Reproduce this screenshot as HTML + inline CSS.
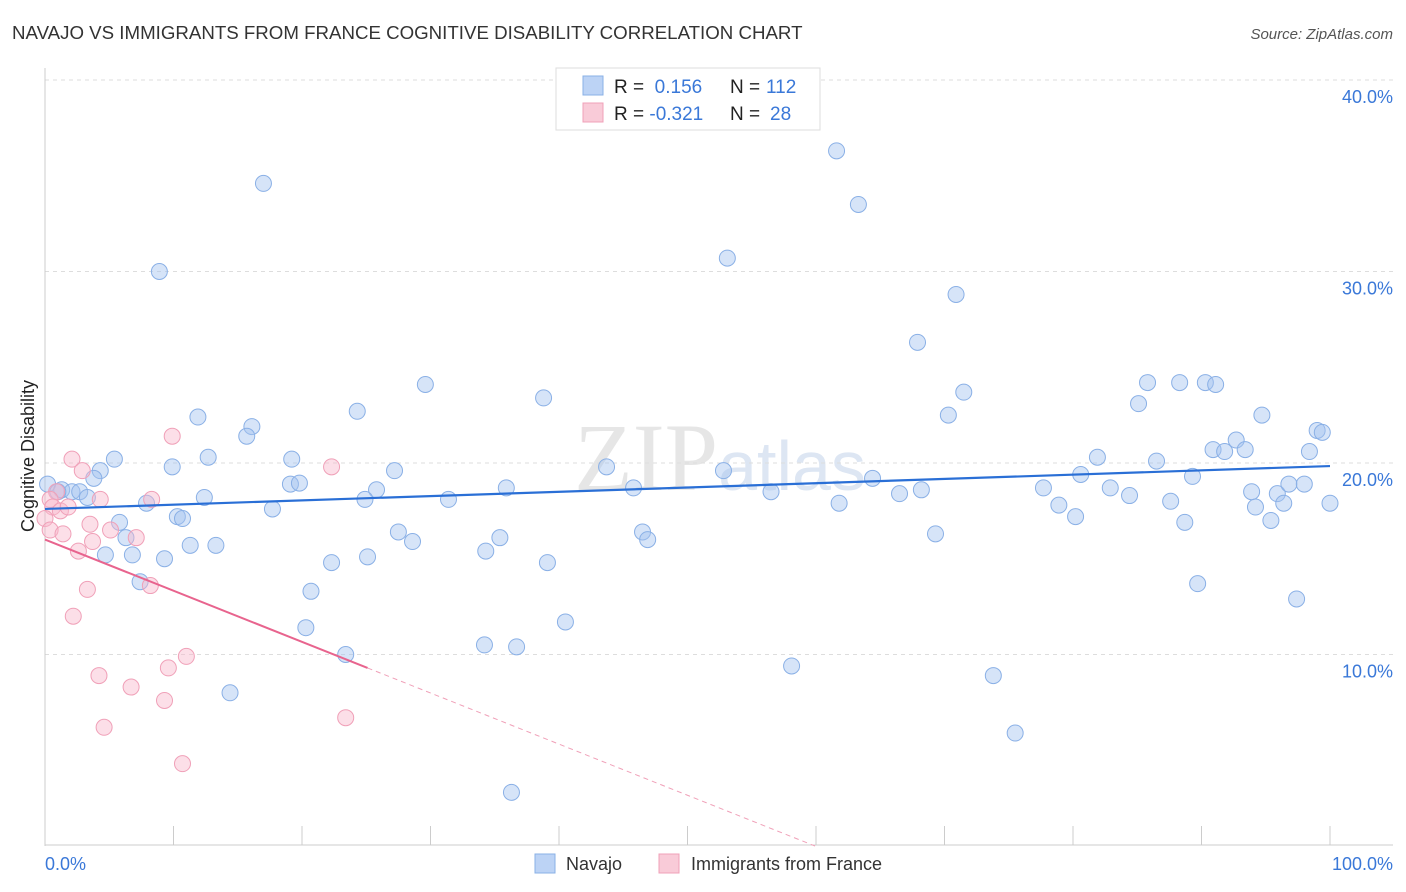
<!DOCTYPE html>
<html><head><meta charset="utf-8"><style>
body{margin:0;background:#fff;font-family:"Liberation Sans",sans-serif}
svg{display:block}
</style></head><body>
<svg id="chart" width="1406" height="892" xmlns="http://www.w3.org/2000/svg">
<text x="12" y="39" font-size="18.7" fill="#333">NAVAJO VS IMMIGRANTS FROM FRANCE COGNITIVE DISABILITY CORRELATION CHART</text>
<text x="1393" y="39" font-size="15" fill="#555" font-style="italic" text-anchor="end">Source: ZipAtlas.com</text>
<text x="720" y="490" font-size="96" fill="#e6e6e6" text-anchor="middle" font-family="Liberation Serif,serif">ZIP<tspan font-family="Liberation Sans,sans-serif" font-size="70" fill="#dde6f3">atlas</tspan></text>
<g id="grid"></g>
<g id="axes"></g>
<g id="marks"></g>
<text transform="translate(34,456) rotate(-90)" font-size="18" fill="#222" text-anchor="middle">Cognitive Disability</text>
<g>
<rect x="556" y="68" width="264" height="62" fill="#fff" stroke="#ddd"/>
<rect x="583" y="76" width="20" height="19" fill="#bcd3f5" stroke="#8ab0e6"/>
<text x="614" y="93" font-size="19" fill="#222">R = <tspan fill="#3a78d8">&#160;0.156</tspan><tspan x="730">N = </tspan><tspan fill="#3a78d8" x="766">112</tspan></text>
<rect x="583" y="103" width="20" height="19" fill="#f9cbd8" stroke="#f0a0b8"/>
<text x="614" y="120" font-size="19" fill="#222">R = <tspan fill="#3a78d8">-0.321</tspan><tspan x="730">N = </tspan><tspan fill="#3a78d8" x="770">28</tspan></text>
</g>
<g>
<rect x="535" y="854" width="20" height="19" fill="#bcd3f5" stroke="#8ab0e6"/>
<text x="566" y="870" font-size="18" fill="#333">Navajo</text>
<rect x="659" y="854" width="20" height="19" fill="#f9cbd8" stroke="#f0a0b8"/>
<text x="691" y="870" font-size="18" fill="#333">Immigrants from France</text>
</g>
</svg>
<script>
const yTicks=[10,20,30,40];
const xTickCount=10;
const navajoX=[17.0,8.9,61.6,63.3,53.1,70.9,67.9,29.6,38.8,24.3,11.9,16.1,15.7,71.5,70.3,85.8,88.3,90.3,91.1,85.1,94.7,99.0,99.4,98.4,90.9,92.7,91.8,93.4,5.4,4.3,3.8,9.9,12.7,19.2,27.2,43.7,52.8,64.4,81.9,86.5,80.6,89.3,0.2,1.3,2.1,1.0,2.7,3.3,7.9,12.4,19.1,19.8,25.8,24.9,31.4,35.9,45.8,56.5,66.5,68.2,77.7,82.9,84.4,93.9,95.9,96.8,98.0,100.0,17.7,10.3,10.7,5.8,6.3,11.3,13.3,27.5,28.6,35.4,46.5,46.9,61.8,69.3,78.9,80.2,87.6,88.7,94.2,95.4,96.4,4.7,6.8,9.3,25.1,34.3,22.3,39.1,7.4,20.7,89.7,97.4,20.3,40.5,34.2,36.7,23.4,58.1,73.8,14.4,75.5,36.3];
const navajoY=[34.6,30.0,36.3,33.5,30.7,28.8,26.3,24.1,23.4,22.7,22.4,21.9,21.4,23.7,22.5,24.2,24.2,24.2,24.1,23.1,22.5,21.7,21.6,20.6,20.7,21.2,20.6,20.7,20.2,19.6,19.2,19.8,20.3,20.2,19.6,19.8,19.6,19.2,20.3,20.1,19.4,19.3,18.9,18.6,18.5,18.5,18.5,18.2,17.9,18.2,18.9,18.95,18.6,18.1,18.1,18.7,18.7,18.5,18.4,18.6,18.7,18.7,18.3,18.5,18.4,18.9,18.9,17.9,17.6,17.2,17.1,16.9,16.1,15.7,15.7,16.4,15.9,16.1,16.4,16.0,17.9,16.3,17.8,17.2,18.0,16.9,17.7,17.0,17.9,15.2,15.2,15.0,15.1,15.4,14.8,14.8,13.8,13.3,13.7,12.9,11.4,11.7,10.5,10.4,10.0,9.4,8.9,8.0,5.9,2.8];
const franceX=[0.9,0.4,0.6,1.2,1.8,0,0.4,1.4,2.1,2.9,4.3,8.3,9.9,22.3,3.5,5.1,3.7,7.1,2.6,3.3,2.2,8.2,9.6,11.0,4.2,6.7,9.3,4.6,23.4,10.7];
const franceY=[18.5,18.1,17.7,17.5,17.7,17.1,16.5,16.3,20.2,19.6,18.1,18.1,21.4,19.8,16.8,16.5,15.9,16.1,15.4,13.4,12.0,13.6,9.3,9.9,8.9,8.3,7.6,6.2,6.7,4.3];
const navajoTrend=[17.6,19.84];
const franceTrend=[16.0,-0.267];
const franceSolidEnd=25.1;

const X0=45,X1=1330,Y0=846,PX_PER=19.15;
const sx=v=>X0+(X1-X0)*v/100;
const sy=v=>Y0-v*PX_PER;
const NS="http://www.w3.org/2000/svg";
function mk(tag,attrs,parent){const e=document.createElementNS(NS,tag);for(const k in attrs)e.setAttribute(k,attrs[k]);parent.appendChild(e);return e;}
const grid=document.getElementById('grid'),axes=document.getElementById('axes'),marks=document.getElementById('marks');
yTicks.forEach(t=>{
  const l=mk('line',{x1:45,x2:1393,y1:sy(t),y2:sy(t),stroke:'#ddd','stroke-dasharray':'4,4'},grid);
  
  
  const tx=mk('text',{x:1393,y:sy(t)+23,'font-size':18,fill:'#3a78d8','text-anchor':'end'},axes);
  tx.textContent=t.toFixed(1)+'%';
  
  
});
let a=mk('line',{x1:45,x2:45,y1:68,y2:846,stroke:'#ccc'},axes);


a=mk('line',{x1:45,x2:1393,y1:845,y2:845,stroke:'#ccc'},axes);


for(let i=1;i<=xTickCount;i++){
  const t=mk('line',{x1:sx(i*10),x2:sx(i*10),y1:826,y2:845,stroke:'#ccc'},axes);
  
  
}
let lb=mk('text',{x:45,y:870,'font-size':18,fill:'#3a78d8'},axes);lb.textContent='0.0%';


lb=mk('text',{x:1393,y:870,'font-size':18,fill:'#3a78d8','text-anchor':'end'},axes);lb.textContent='100.0%';



navajoX.forEach((x,i)=>{
  const c=mk('circle',{cx:sx(x),cy:sy(navajoY[i]),r:8,fill:'rgba(165,195,240,0.45)',stroke:'#8ab0e6','stroke-width':1},marks);
  
  
});
franceX.forEach((x,i)=>{
  const c=mk('circle',{cx:sx(x),cy:sy(franceY[i]),r:8,fill:'rgba(248,185,205,0.45)',stroke:'#f0a0b8','stroke-width':1},marks);
  
  
});
let tl=mk('line',{x1:sx(0),y1:sy(navajoTrend[0]),x2:sx(100),y2:sy(navajoTrend[1]),stroke:'#2a6fd6','stroke-width':2.2},marks);


const fy=x=>franceTrend[0]+franceTrend[1]*x;
tl=mk('line',{x1:sx(0),y1:sy(fy(0)),x2:sx(franceSolidEnd),y2:sy(fy(franceSolidEnd)),stroke:'#e8648e','stroke-width':2},marks);


const xEnd=-franceTrend[0]/franceTrend[1];
tl=mk('line',{x1:sx(franceSolidEnd),y1:sy(fy(franceSolidEnd)),x2:sx(xEnd),y2:sy(0),stroke:'#f0a0b8','stroke-width':1,'stroke-dasharray':'5,4'},marks);


</script>
</body></html>
